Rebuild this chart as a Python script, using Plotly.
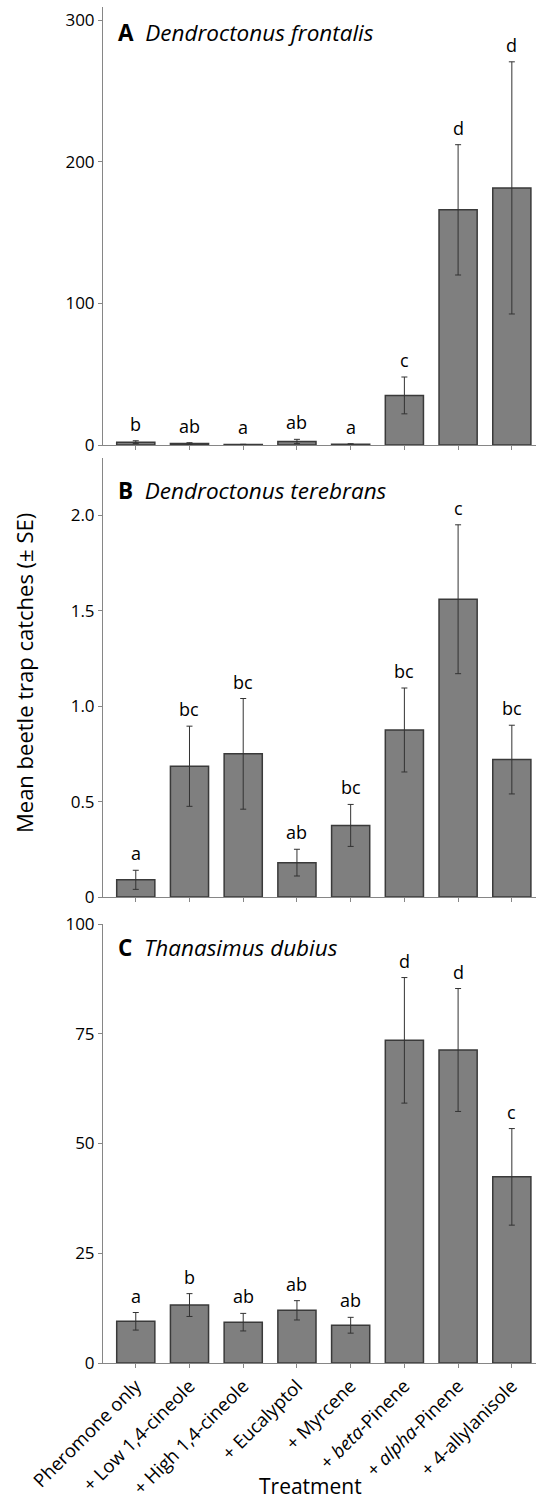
import plotly.graph_objects as go
from plotly.subplots import make_subplots

treatments = ["Pheromone only", "+ Low 1,4-cineole", "+ High 1,4-cineole", "+ Eucalyptol",
              "+ Myrcene", "+ <i>beta</i>-Pinene", "+ <i>alpha</i>-Pinene", "+ 4-allylanisole"]

frontalis_mean = [2.0, 1.0, 0.3, 2.5, 0.5, 35.0, 166.0, 181.5]
frontalis_se = [1.0, 0.6, 0.2, 1.5, 0.4, 13.0, 46.0, 89.0]
frontalis_letters = ["b", "ab", "a", "ab", "a", "c", "d", "d"]

terebrans_mean = [0.09, 0.685, 0.75, 0.18, 0.375, 0.875, 1.56, 0.72]
terebrans_se = [0.05, 0.21, 0.29, 0.07, 0.11, 0.22, 0.39, 0.18]
terebrans_letters = ["a", "bc", "bc", "ab", "bc", "bc", "c", "bc"]

dubius_mean = [9.5, 13.2, 9.3, 12.0, 8.6, 73.5, 71.3, 42.4]
dubius_se = [2.0, 2.6, 2.0, 2.2, 1.8, 14.3, 14.0, 11.0]
dubius_letters = ["a", "b", "ab", "ab", "ab", "d", "d", "c"]

panels = [
    ("A", "Dendroctonus frontalis", frontalis_mean, frontalis_se, frontalis_letters),
    ("B", "Dendroctonus terebrans", terebrans_mean, terebrans_se, terebrans_letters),
    ("C", "Thanasimus dubius", dubius_mean, dubius_se, dubius_letters),
]

FONT = "Open Sans"
fig = make_subplots(rows=3, cols=1, shared_xaxes=False)

xs = list(range(len(treatments)))
for i, (lab, name, mean, se, letters) in enumerate(panels, start=1):
    fig.add_trace(go.Bar(
        x=xs, y=mean, width=0.71,
        marker=dict(color="#7f7f7f", line=dict(color="#3a3a3a", width=1.5)),
        error_y=dict(type="data", array=se, visible=True, color="#333333", thickness=1, width=3),
        showlegend=False,
    ), row=i, col=1)
    xr = "x" if i == 1 else f"x{i}"
    yr = "y" if i == 1 else f"y{i}"
    for xi, m, s, l in zip(xs, mean, se, letters):
        fig.add_annotation(x=xi, y=m + s, xref=xr, yref=yr, text=l, showarrow=False,
                           yanchor="bottom", yshift=3, font=dict(family=FONT, size=18, color="black"))

# layout geometry (pixels -> domains)
H, W = 1499, 536
top, bottom = 7, 1363
ph = bottom - top

def dom(a, b):
    return [(bottom - b) / ph, (bottom - a) / ph]

doms = [dom(7, 445), dom(458, 897), dom(924, 1363)]
ranges = [[0, 309.2], [0, 2.3], [0, 100]]
tickvals = [[0, 100, 200, 300], [0, 0.5, 1.0, 1.5, 2.0], [0, 25, 50, 75, 100]]
ticktexts = [["0", "100", "200", "300"], ["0", "0.5", "1.0", "1.5", "2.0"], ["0", "25", "50", "75", "100"]]

axis_col = "#868686"
for i in range(1, 4):
    sfx = "" if i == 1 else str(i)
    fig.layout["yaxis" + sfx].update(
        domain=doms[i - 1], range=ranges[i - 1], tickvals=tickvals[i - 1], ticktext=ticktexts[i - 1],
        showgrid=False, zeroline=False, showline=True, linecolor=axis_col, linewidth=1,
        ticks="outside", ticklen=4, tickcolor=axis_col, automargin=False,
        tickfont=dict(family=FONT, size=17, color="black"),
    )
    fig.layout["xaxis" + sfx].update(
        range=[-0.61, 7.45], tickvals=xs, ticktext=treatments, showticklabels=(i == 3),
        tickangle=-45, showgrid=False, zeroline=False, showline=True, linecolor=axis_col, linewidth=1,
        ticks="outside", ticklen=4, tickcolor=axis_col, automargin=False,
        tickfont=dict(family=FONT, size=18.5, color="black"),
    )

title_y = [32, 490, 947]
for (lab, name, *_), ty in zip(panels, title_y):
    fig.add_annotation(xref="paper", yref="paper", x=(116 - 103) / 433, y=(bottom - ty) / ph,
                       xanchor="left", yanchor="middle", showarrow=False,
                       text=f"<b>{lab}</b>  <i>{name}</i>",
                       font=dict(family=FONT, size=22.5, color="black"))

fig.add_annotation(xref="paper", yref="paper", x=(24 - 103) / 433, y=(bottom - 673) / ph,
                   xanchor="center", yanchor="middle", textangle=-90, showarrow=False,
                   text="Mean beetle trap catches (± SE)", font=dict(family=FONT, size=22, color="black"))
fig.add_annotation(xref="paper", yref="paper", x=(310 - 103) / 433, y=(bottom - 1486) / ph,
                   xanchor="center", yanchor="middle", showarrow=False,
                   text="Treatment", font=dict(family=FONT, size=21, color="black"))

fig.update_layout(
    width=W, height=H, margin=dict(l=103, r=0, t=top, b=H - bottom),
    plot_bgcolor="white", paper_bgcolor="white", bargap=0.29,
    font=dict(family=FONT, color="black"),
)

fig.write_html("out.html")
